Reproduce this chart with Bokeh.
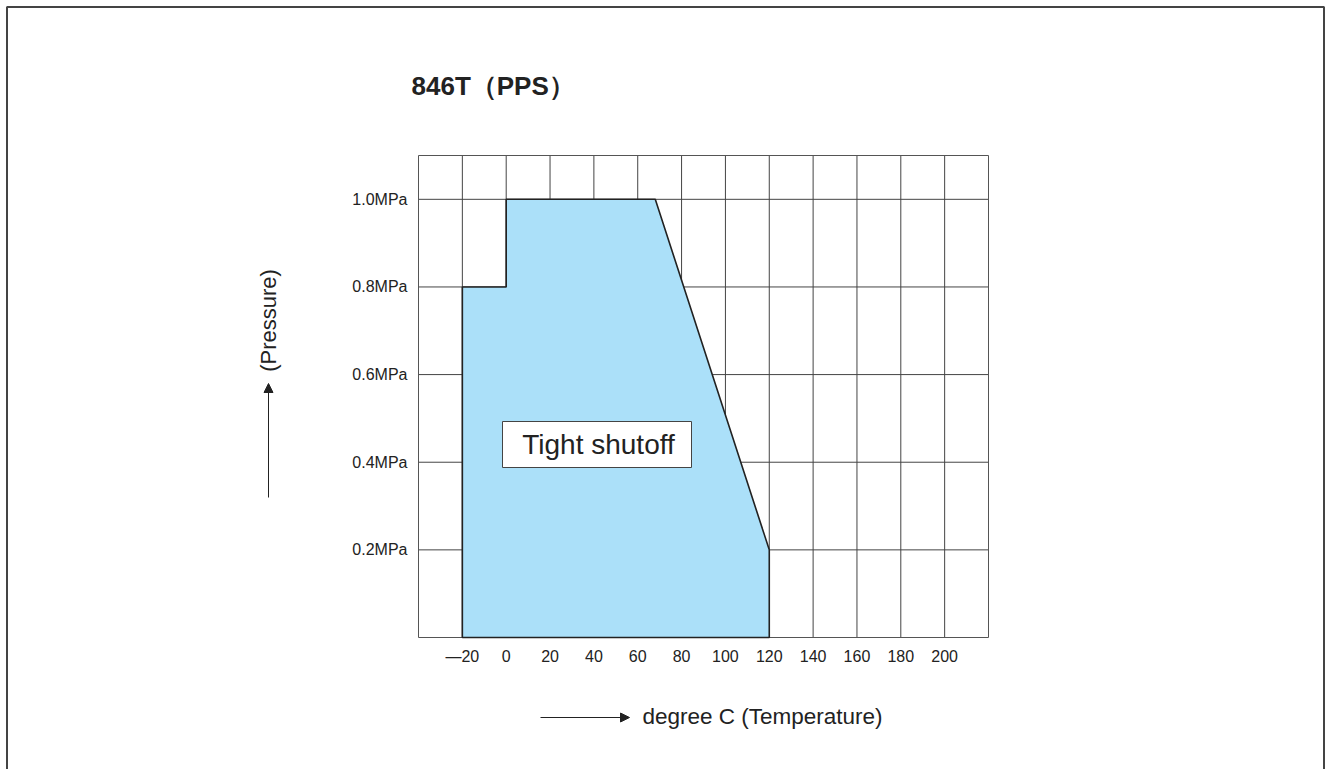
from bokeh.plotting import figure
from bokeh.models import (FixedTicker, Label, Arrow, NormalHead, Range1d, LinearAxis)
from bokeh.embed import file_html
from bokeh.resources import INLINE

# ---- data ----
temperature = [-20, -20, 0, 0, 68, 120, 120]
pressure = [0.0, 0.8, 0.8, 1.0, 1.0, 0.2, 0.0]
x_ticks = [-20, 0, 20, 40, 60, 80, 100, 120, 140, 160, 180, 200]
x_tick_labels = ["—20", "0", "20", "40", "60", "80", "100", "120", "140", "160", "180", "200"]
y_ticks = [0.2, 0.4, 0.6, 0.8, 1.0]
y_tick_labels = ["0.2MPa", "0.4MPa", "0.6MPa", "0.8MPa", "1.0MPa"]
x_lim = (-40, 220)
y_lim = (0.0, 1.1)
title_text = "846T（PPS）"
region_text = "Tight shutoff"
x_title = "degree C (Temperature)"
y_title = "(Pressure)"

FONT = "Liberation Sans"
TXT = "#222222"

# ---- layout: canvas pixels <-> data (the chart frame occupies px 418..988, 155..637)
W, H = 1328, 769
FX0, FX1, FY0, FY1 = 418.0, 988.0, 637.0, 155.0
sx = (FX1 - FX0) / (x_lim[1] - x_lim[0])
sy = (FY0 - FY1) / (y_lim[1] - y_lim[0])


def px2x(px):
    return x_lim[0] + (px - FX0) / sx


def py2y(py):
    return y_lim[0] + (FY0 - py) / sy


p = figure(width=W, height=H, output_backend="svg", toolbar_location=None,
           x_range=Range1d(px2x(0), px2x(W)), y_range=Range1d(py2y(H), py2y(0)),
           min_border=0, x_axis_type=None, y_axis_type=None,
           background_fill_color="white", border_fill_color="white")
p.outline_line_color = None
p.xgrid.visible = False
p.ygrid.visible = False

# page border
p.line([px2x(6.5), px2x(6.5), px2x(1323.5), px2x(1323.5)],
       [py2y(H + 20), py2y(6.5), py2y(6.5), py2y(H + 20)],
       line_color="#444444", line_width=2)

# grid lines at tick positions
p.segment(x0=x_ticks, y0=[y_lim[0]] * len(x_ticks), x1=x_ticks, y1=[y_lim[1]] * len(x_ticks),
          line_color="#444444", line_width=1)
p.segment(x0=[x_lim[0]] * len(y_ticks), y0=y_ticks, x1=[x_lim[1]] * len(y_ticks), y1=y_ticks,
          line_color="#444444", line_width=1)
# chart frame
p.quad(left=x_lim[0], right=x_lim[1], bottom=y_lim[0], top=y_lim[1],
       fill_color=None, line_color="#555555", line_width=1)

# axes (labels only) fixed at the chart frame edges
xax = LinearAxis(fixed_location=y_lim[0], ticker=FixedTicker(ticks=x_ticks),
                 major_label_overrides={t: l for t, l in zip(x_ticks, x_tick_labels)})
yax = LinearAxis(fixed_location=x_lim[0], ticker=FixedTicker(ticks=y_ticks),
                 major_label_overrides={t: l for t, l in zip(y_ticks, y_tick_labels)})
for ax in (xax, yax):
    ax.axis_line_color = None
    ax.major_tick_line_color = None
    ax.minor_tick_line_color = None
    ax.major_tick_out = 0
    ax.major_tick_in = 0
    ax.major_label_text_font = FONT
    ax.major_label_text_color = TXT
xax.major_label_text_font_size = "16px"
xax.major_label_standoff = 10
yax.major_label_text_font_size = "16px"
yax.major_label_standoff = 11
p.add_layout(xax, "below")
p.add_layout(yax, "left")

# region
p.patch(temperature, pressure, fill_color="#abe0f9", line_color="#222222", line_width=1.6)

# label box
p.quad(left=px2x(502), right=px2x(691), bottom=py2y(467), top=py2y(421), fill_color="white",
       line_color="#444444", line_width=1)
p.add_layout(Label(x=px2x(598), y=py2y(444), text=region_text, text_font=FONT,
                   text_font_size="28px", text_color=TXT, text_align="center",
                   text_baseline="middle"))

# title
p.add_layout(Label(x=px2x(411), y=py2y(85), text=title_text, text_font=FONT,
                   text_font_size="26px", text_font_style="bold", text_color=TXT,
                   text_baseline="middle"))

# x title with arrow
p.add_layout(Label(x=px2x(642), y=py2y(716), text=x_title, text_font=FONT,
                   text_font_size="22.5px", text_color=TXT, text_baseline="middle"))
p.add_layout(Arrow(x_start=px2x(540), y_start=py2y(717), x_end=px2x(629), y_end=py2y(717),
                   line_color="#222222", line_width=1,
                   end=NormalHead(size=9, fill_color="#222222", line_color="#222222")))

# y title with arrow
p.add_layout(Label(x=px2x(268), y=py2y(320), text=y_title, text_font=FONT,
                   text_font_size="22px", text_color=TXT, text_baseline="middle",
                   text_align="center", angle=1.5708))
p.add_layout(Arrow(x_start=px2x(268), y_start=py2y(497), x_end=px2x(268), y_end=py2y(383),
                   line_color="#222222", line_width=1,
                   end=NormalHead(size=9, fill_color="#222222", line_color="#222222")))

open("out.html", "w").write(file_html(p, INLINE))
